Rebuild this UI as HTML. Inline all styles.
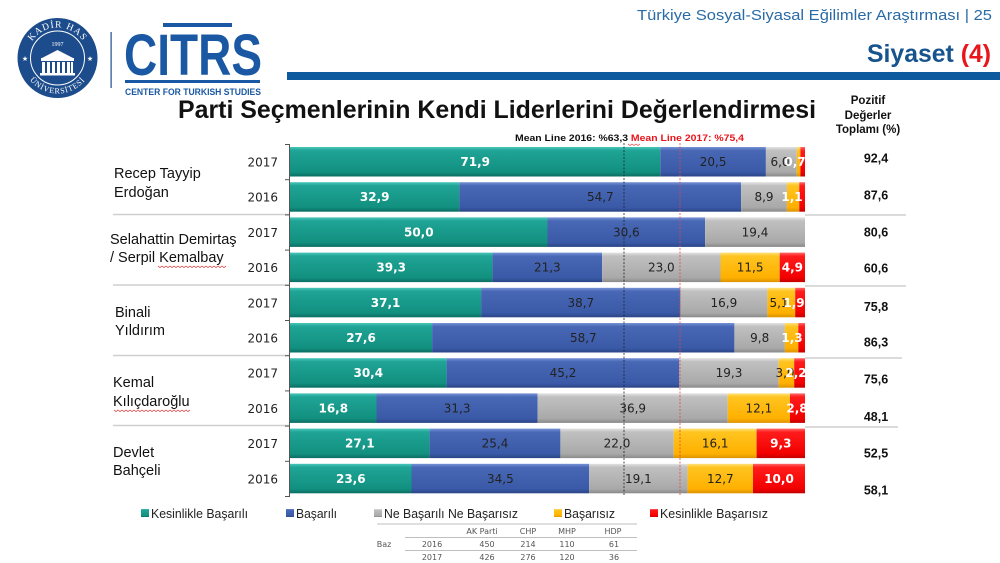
<!DOCTYPE html>
<html><head><meta charset="utf-8">
<style>
html,body{margin:0;padding:0;background:#fff;}
svg{display:block;}
</style></head>
<body>
<svg width="1000" height="563" viewBox="0 0 1000 563" xmlns="http://www.w3.org/2000/svg">
<defs>
<linearGradient id="gT" x1="0" y1="0" x2="0" y2="1">
<stop offset="0" stop-color="#48c6ba"/><stop offset="0.12" stop-color="#1fa496"/><stop offset="0.85" stop-color="#12907f"/><stop offset="1" stop-color="#0b6d63"/></linearGradient>
<linearGradient id="gB" x1="0" y1="0" x2="0" y2="1">
<stop offset="0" stop-color="#7893d6"/><stop offset="0.12" stop-color="#4868b6"/><stop offset="0.85" stop-color="#3a5aa8"/><stop offset="1" stop-color="#2a4486"/></linearGradient>
<linearGradient id="gG" x1="0" y1="0" x2="0" y2="1">
<stop offset="0" stop-color="#e2e2e2"/><stop offset="0.12" stop-color="#c0c0c0"/><stop offset="0.85" stop-color="#a9a9a9"/><stop offset="1" stop-color="#898989"/></linearGradient>
<linearGradient id="gO" x1="0" y1="0" x2="0" y2="1">
<stop offset="0" stop-color="#ffe27a"/><stop offset="0.12" stop-color="#ffc420"/><stop offset="0.85" stop-color="#ffb000"/><stop offset="1" stop-color="#dc9200"/></linearGradient>
<linearGradient id="gR" x1="0" y1="0" x2="0" y2="1">
<stop offset="0" stop-color="#ff6a6a"/><stop offset="0.12" stop-color="#ff1c1c"/><stop offset="0.85" stop-color="#f20000"/><stop offset="1" stop-color="#c20000"/></linearGradient>
<path id="arcTop" d="M 27,58 A 30.5,30.5 0 0,1 88,58"/>
<path id="arcBot" d="M 22,58 A 35.5,35.5 0 0,0 93,58"/>
</defs>

<!-- Kadir Has logo -->
<circle cx="57.5" cy="58" r="40" fill="#1d4c8c"/>
<circle cx="57.5" cy="58" r="27" fill="none" stroke="#fff" stroke-width="1"/>
<text font-family="'Liberation Serif', serif" font-size="9.5" fill="#fff" letter-spacing="1"><textPath href="#arcTop" startOffset="50%" text-anchor="middle">KADİR HAS</textPath></text>
<text font-family="'Liberation Serif', serif" font-size="8" fill="#fff" letter-spacing="0.8"><textPath href="#arcBot" startOffset="50%" text-anchor="middle">ÜNİVERSİTESİ</textPath></text>
<text x="57.5" y="46" font-family="'Liberation Serif', serif" font-size="6" fill="#fff" text-anchor="middle">1997</text>
<text x="25" y="61" font-family="'DejaVu Sans', sans-serif" font-size="7" fill="#fff" text-anchor="middle">★</text>
<text x="90" y="61" font-family="'DejaVu Sans', sans-serif" font-size="7" fill="#fff" text-anchor="middle">★</text>
<polygon points="42,58 57.5,50 73,58" fill="#fff"/>
<rect x="41" y="58" width="33" height="3" fill="#fff"/>
<rect x="42" y="62" width="3" height="11" fill="#fff"/>
<rect x="47" y="62" width="3" height="11" fill="#fff"/>
<rect x="52" y="62" width="3" height="11" fill="#fff"/>
<rect x="57" y="62" width="3" height="11" fill="#fff"/>
<rect x="62" y="62" width="3" height="11" fill="#fff"/>
<rect x="67" y="62" width="3" height="11" fill="#fff"/>
<rect x="71" y="62" width="2" height="11" fill="#fff"/>
<rect x="40" y="73" width="35" height="2.5" fill="#fff"/>
<rect x="110.5" y="32" width="1.2" height="56" fill="#1d4c8c"/>

<!-- CITRS logo -->
<rect x="163" y="23" width="69" height="4" fill="#1a58a4"/>
<text x="124" y="75" font-family="'Liberation Sans Narrow', 'Liberation Sans', sans-serif" font-weight="bold" font-size="58" fill="#1a58a4" textLength="138" lengthAdjust="spacingAndGlyphs">CITRS</text>
<rect x="125" y="80" width="135" height="3" fill="#1a58a4"/>
<text x="125" y="95" font-family="'Liberation Sans Narrow', 'Liberation Sans', sans-serif" font-weight="bold" font-size="9.5" fill="#1a58a4" textLength="136" lengthAdjust="spacingAndGlyphs">CENTER FOR TURKISH STUDIES</text>

<!-- header -->
<text x="637" y="20" font-family="'Liberation Sans', Arial, sans-serif" font-size="14.5" fill="#2a6aa6" textLength="355" lengthAdjust="spacingAndGlyphs">Türkiye Sosyal-Siyasal Eğilimler Araştırması | 25</text>
<text x="867" y="62" font-family="'Liberation Sans', sans-serif" font-weight="bold" font-size="25" textLength="124" lengthAdjust="spacingAndGlyphs"><tspan fill="#17548e">Siyaset </tspan><tspan fill="#e8151b">(4)</tspan></text>
<rect x="287" y="72" width="713" height="8" fill="#0e5a9e"/>

<!-- title -->
<text x="178" y="118" font-family="'Liberation Sans', sans-serif" font-weight="bold" font-size="25" fill="#111" textLength="638" lengthAdjust="spacingAndGlyphs">Parti Seçmenlerinin Kendi Liderlerini Değerlendirmesi</text>
<text x="515" y="141" font-family="'Liberation Sans', sans-serif" font-weight="bold" font-size="9" textLength="229" lengthAdjust="spacingAndGlyphs"><tspan fill="#111">Mean Line 2016: %63,3 </tspan><tspan fill="#e8151b">Mean Line 2017: %75,4</tspan></text>
<polyline points="628,144 630,145.5 632,144 634,145.5 636,144 638,145.5 640,144" fill="none" stroke="#e03030" stroke-width="0.6"/>

<!-- right column header -->
<g font-family="'Liberation Sans', sans-serif" font-weight="bold" font-size="11.5" fill="#111" text-anchor="middle">
<text x="868" y="104">Pozitif</text>
<text x="868" y="119">Değerler</text>
<text x="868" y="133">Toplamı (%)</text>
</g>

<!-- separators -->
<g stroke="#cfcfcf" stroke-width="1.5">
<line x1="113" y1="214.5" x2="290" y2="214.5"/>
<line x1="113" y1="285" x2="290" y2="285"/>
<line x1="113" y1="355.5" x2="290" y2="355.5"/>
<line x1="113" y1="425.5" x2="290" y2="425.5"/>
<line x1="805" y1="215" x2="906" y2="215"/>
<line x1="805" y1="286" x2="906" y2="286"/>
<line x1="805" y1="358" x2="902" y2="358"/>
<line x1="805" y1="427" x2="898" y2="427"/>
</g>

<!-- leader names -->
<g font-family="'Liberation Sans', sans-serif" font-size="14.5" fill="#111">
<text x="114" y="178">Recep Tayyip</text>
<text x="114" y="197">Erdoğan</text>
<text x="110" y="244">Selahattin Demirtaş</text>
<text x="110" y="262">/ Serpil Kemalbay</text>
<text x="115" y="317">Binali</text>
<text x="115" y="335">Yıldırım</text>
<text x="113" y="387">Kemal</text>
<text x="113" y="406">Kılıçdaroğlu</text>
<text x="113" y="457">Devlet</text>
<text x="113" y="475">Bahçeli</text>
</g>
<polyline points="158,266 160,267.5 162,266 164,267.5 166,266 168,267.5 170,266 172,267.5 174,266 176,267.5 178,266 180,267.5 182,266 184,267.5 186,266 188,267.5 190,266 192,267.5 194,266 196,267.5 198,266 200,267.5 202,266 204,267.5 206,266 208,267.5 210,266 212,267.5 214,266 216,267.5 218,266 220,267.5 222,266 224,267.5 226,266" fill="none" stroke="#e03030" stroke-width="0.7"/>
<polyline points="114,410 116,411.5 118,410 120,411.5 122,410 124,411.5 126,410 128,411.5 130,410 132,411.5 134,410 136,411.5 138,410 140,411.5 142,410 144,411.5 146,410 148,411.5 150,410 152,411.5 154,410 156,411.5 158,410 160,411.5 162,410 164,411.5 166,410 168,411.5 170,410 172,411.5 174,410 176,411.5 178,410 180,411.5 182,410 184,411.5 186,410 188,411.5 190,410" fill="none" stroke="#e03030" stroke-width="0.7"/>

<!-- year labels -->
<g font-family="'DejaVu Sans', Verdana, sans-serif" font-size="12" fill="#222" text-anchor="end">
<text x="278" y="166.5">2017</text>
<text x="278" y="201.7">2016</text>
<text x="278" y="236.9">2017</text>
<text x="278" y="272.1">2016</text>
<text x="278" y="307.3">2017</text>
<text x="278" y="342.5">2016</text>
<text x="278" y="377.7">2017</text>
<text x="278" y="412.9">2016</text>
<text x="278" y="448.1">2017</text>
<text x="278" y="483.3">2016</text>
</g>

<!-- axis -->
<g stroke="#555" stroke-width="1">
<line x1="289.5" y1="144.5" x2="289.5" y2="496.5"/>
<line x1="285" y1="144.5" x2="290" y2="144.5"/>
<line x1="285" y1="179.7" x2="290" y2="179.7"/>
<line x1="285" y1="214.9" x2="290" y2="214.9"/>
<line x1="285" y1="250.1" x2="290" y2="250.1"/>
<line x1="285" y1="285.3" x2="290" y2="285.3"/>
<line x1="285" y1="320.5" x2="290" y2="320.5"/>
<line x1="285" y1="355.7" x2="290" y2="355.7"/>
<line x1="285" y1="390.9" x2="290" y2="390.9"/>
<line x1="285" y1="426.1" x2="290" y2="426.1"/>
<line x1="285" y1="461.3" x2="290" y2="461.3"/>
<line x1="285" y1="496.5" x2="290" y2="496.5"/>
</g>

<!-- bars -->
<g>
<rect x="290" y="147" width="370.3" height="29.5" fill="url(#gT)"/>
<rect x="660.3" y="147" width="105.6" height="29.5" fill="url(#gB)"/>
<rect x="765.9" y="147" width="30.9" height="29.5" fill="url(#gG)"/>
<rect x="796.8" y="147" width="3.6" height="29.5" fill="url(#gO)"/>
<rect x="800.4" y="147" width="4.6" height="29.5" fill="url(#gR)"/>
<rect x="290" y="182.2" width="169.4" height="29.5" fill="url(#gT)"/>
<rect x="459.4" y="182.2" width="281.7" height="29.5" fill="url(#gB)"/>
<rect x="741.1" y="182.2" width="45.8" height="29.5" fill="url(#gG)"/>
<rect x="786.9" y="182.2" width="12.4" height="29.5" fill="url(#gO)"/>
<rect x="799.3" y="182.2" width="5.7" height="29.5" fill="url(#gR)"/>
<rect x="290" y="217.4" width="257.5" height="29.5" fill="url(#gT)"/>
<rect x="547.5" y="217.4" width="157.6" height="29.5" fill="url(#gB)"/>
<rect x="705.1" y="217.4" width="99.9" height="29.5" fill="url(#gG)"/>
<rect x="290" y="252.6" width="202.4" height="29.5" fill="url(#gT)"/>
<rect x="492.4" y="252.6" width="109.7" height="29.5" fill="url(#gB)"/>
<rect x="602.1" y="252.6" width="118.4" height="29.5" fill="url(#gG)"/>
<rect x="720.5" y="252.6" width="59.2" height="29.5" fill="url(#gO)"/>
<rect x="779.7" y="252.6" width="25.3" height="29.5" fill="url(#gR)"/>
<rect x="290" y="287.8" width="191.1" height="29.5" fill="url(#gT)"/>
<rect x="481.1" y="287.8" width="199.3" height="29.5" fill="url(#gB)"/>
<rect x="680.4" y="287.8" width="87" height="29.5" fill="url(#gG)"/>
<rect x="767.4" y="287.8" width="27.8" height="29.5" fill="url(#gO)"/>
<rect x="795.2" y="287.8" width="9.8" height="29.5" fill="url(#gR)"/>
<rect x="290" y="323" width="142.1" height="29.5" fill="url(#gT)"/>
<rect x="432.1" y="323" width="302.3" height="29.5" fill="url(#gB)"/>
<rect x="734.4" y="323" width="50.5" height="29.5" fill="url(#gG)"/>
<rect x="784.9" y="323" width="13.4" height="29.5" fill="url(#gO)"/>
<rect x="798.3" y="323" width="6.7" height="29.5" fill="url(#gR)"/>
<rect x="290" y="358.2" width="156.6" height="29.5" fill="url(#gT)"/>
<rect x="446.6" y="358.2" width="232.7" height="29.5" fill="url(#gB)"/>
<rect x="679.3" y="358.2" width="99.4" height="29.5" fill="url(#gG)"/>
<rect x="778.7" y="358.2" width="15.5" height="29.5" fill="url(#gO)"/>
<rect x="794.2" y="358.2" width="10.8" height="29.5" fill="url(#gR)"/>
<rect x="290" y="393.4" width="86.5" height="29.5" fill="url(#gT)"/>
<rect x="376.5" y="393.4" width="161.2" height="29.5" fill="url(#gB)"/>
<rect x="537.7" y="393.4" width="190" height="29.5" fill="url(#gG)"/>
<rect x="727.7" y="393.4" width="62.3" height="29.5" fill="url(#gO)"/>
<rect x="790" y="393.4" width="15" height="29.5" fill="url(#gR)"/>
<rect x="290" y="428.6" width="139.6" height="29.5" fill="url(#gT)"/>
<rect x="429.6" y="428.6" width="130.8" height="29.5" fill="url(#gB)"/>
<rect x="560.4" y="428.6" width="113.3" height="29.5" fill="url(#gG)"/>
<rect x="673.7" y="428.6" width="82.9" height="29.5" fill="url(#gO)"/>
<rect x="756.6" y="428.6" width="48.4" height="29.5" fill="url(#gR)"/>
<rect x="290" y="463.8" width="121.5" height="29.5" fill="url(#gT)"/>
<rect x="411.5" y="463.8" width="177.7" height="29.5" fill="url(#gB)"/>
<rect x="589.2" y="463.8" width="98.4" height="29.5" fill="url(#gG)"/>
<rect x="687.6" y="463.8" width="65.4" height="29.5" fill="url(#gO)"/>
<rect x="753" y="463.8" width="52" height="29.5" fill="url(#gR)"/>
</g>

<!-- mean lines -->
<line x1="624" y1="143" x2="624" y2="496" stroke="#222" stroke-width="0.8" stroke-dasharray="2,1.5"/>
<line x1="680" y1="143" x2="680" y2="496" stroke="#e04848" stroke-width="0.8" stroke-dasharray="2,1.5"/>

<!-- bar labels: teal (white bold) -->
<g font-family="'DejaVu Sans', Verdana, sans-serif" font-weight="bold" font-size="12" fill="#fff" text-anchor="middle">
<text x="475.2" y="166">71,9</text>
<text x="374.7" y="201.2">32,9</text>
<text x="418.8" y="236.4">50,0</text>
<text x="391.2" y="271.6">39,3</text>
<text x="385.6" y="306.8">37,1</text>
<text x="361" y="342">27,6</text>
<text x="368.3" y="377.2">30,4</text>
<text x="333.3" y="412.4">16,8</text>
<text x="359.8" y="447.6">27,1</text>
<text x="350.8" y="482.8">23,6</text>
</g>
<!-- dark normal labels -->
<g font-family="'DejaVu Sans', Verdana, sans-serif" font-size="12" fill="#222" text-anchor="middle">
<text x="713.1" y="166">20,5</text>
<text x="780" y="166">6,0</text>
<text x="600.3" y="201.2">54,7</text>
<text x="764" y="201.2">8,9</text>
<text x="626.3" y="236.4">30,6</text>
<text x="755" y="236.4">19,4</text>
<text x="547.3" y="271.6">21,3</text>
<text x="661.3" y="271.6">23,0</text>
<text x="750.1" y="271.6">11,5</text>
<text x="580.8" y="306.8">38,7</text>
<text x="723.9" y="306.8">16,9</text>
<text x="779" y="306.8">5,1</text>
<text x="583.3" y="342">58,7</text>
<text x="759.7" y="342">9,8</text>
<text x="563" y="377.2">45,2</text>
<text x="729" y="377.2">19,3</text>
<text x="785" y="377.2">3,0</text>
<text x="457.1" y="412.4">31,3</text>
<text x="632.7" y="412.4">36,9</text>
<text x="758.9" y="412.4">12,1</text>
<text x="495" y="447.6">25,4</text>
<text x="617" y="447.6">22,0</text>
<text x="715.2" y="447.6">16,1</text>
<text x="500.4" y="482.8">34,5</text>
<text x="638.4" y="482.8">19,1</text>
<text x="720.3" y="482.8">12,7</text>
</g>
<!-- red / small (white bold) -->
<g font-family="'DejaVu Sans', Verdana, sans-serif" font-weight="bold" font-size="12" fill="#fff" text-anchor="middle">
<text x="795" y="166">0,7</text>
<text x="792" y="201.2">1,1</text>
<text x="792.4" y="271.6">4,9</text>
<text x="794" y="306.8">1,9</text>
<text x="792" y="342">1,3</text>
<text x="796" y="377.2">2,2</text>
<text x="797" y="412.4">2,8</text>
<text x="780.8" y="447.6">9,3</text>
<text x="779" y="482.8">10,0</text>
</g>

<!-- right values -->
<g font-family="'Liberation Sans', sans-serif" font-weight="bold" font-size="12.5" fill="#111" text-anchor="middle">
<text x="876" y="162.5">92,4</text>
<text x="876" y="199.5">87,6</text>
<text x="876" y="236.5">80,6</text>
<text x="876" y="272.5">60,6</text>
<text x="876" y="311">75,8</text>
<text x="876" y="346.5">86,3</text>
<text x="876" y="383.5">75,6</text>
<text x="876" y="421">48,1</text>
<text x="876" y="457.5">52,5</text>
<text x="876" y="494.5">58,1</text>
</g>

<!-- legend -->
<rect x="141" y="509" width="8" height="8" fill="url(#gT)"/>
<rect x="286" y="509" width="8" height="8" fill="url(#gB)"/>
<rect x="374" y="509" width="8" height="8" fill="url(#gG)"/>
<rect x="554" y="509" width="8" height="8" fill="url(#gO)"/>
<rect x="650" y="509" width="8" height="8" fill="url(#gR)"/>
<g font-family="'Liberation Sans', sans-serif" font-size="13" fill="#222">
<text x="151" y="518" textLength="97" lengthAdjust="spacingAndGlyphs">Kesinlikle Başarılı</text>
<text x="296" y="518" textLength="41" lengthAdjust="spacingAndGlyphs">Başarılı</text>
<text x="384" y="518" textLength="134" lengthAdjust="spacingAndGlyphs">Ne Başarılı Ne Başarısız</text>
<text x="564" y="518" textLength="51" lengthAdjust="spacingAndGlyphs">Başarısız</text>
<text x="660" y="518" textLength="108" lengthAdjust="spacingAndGlyphs">Kesinlikle Başarısız</text>
</g>

<!-- base table -->
<g stroke="#aaa" stroke-width="0.8">
<line x1="377" y1="524" x2="637" y2="524"/>
<line x1="405" y1="537.5" x2="637" y2="537.5"/>
<line x1="405" y1="550.5" x2="637" y2="550.5"/>
</g>
<g font-family="'DejaVu Sans', Verdana, sans-serif" font-size="8" fill="#555" text-anchor="middle">
<text x="482" y="534">AK Parti</text>
<text x="528" y="534">CHP</text>
<text x="567" y="534">MHP</text>
<text x="613" y="534">HDP</text>
<text x="384" y="547">Baz</text>
<text x="432" y="547">2016</text>
<text x="487" y="547">450</text>
<text x="528" y="547">214</text>
<text x="567" y="547">110</text>
<text x="614" y="547">61</text>
<text x="432" y="560">2017</text>
<text x="487" y="560">426</text>
<text x="528" y="560">276</text>
<text x="567" y="560">120</text>
<text x="614" y="560">36</text>
</g>
</svg>
</body></html>
